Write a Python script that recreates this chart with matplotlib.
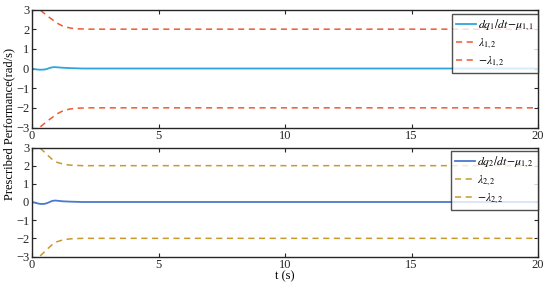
import matplotlib
matplotlib.use("Agg")
import matplotlib.pyplot as plt

plt.rcParams['font.family'] = ['Liberation Serif', 'DejaVu Serif']
plt.rcParams['mathtext.fontset'] = 'stix'

# time samples (s) and prescribed bounds
t_lam1 = [0, 0.15, 0.3, 0.43, 0.6, 0.81, 1.0, 1.24, 1.5, 1.76, 2.2, 3.0, 20.0]
lam1 = [3.3, 3.15, 3.0, 2.86, 2.68, 2.48, 2.3, 2.14, 2.06, 2.02, 2.0, 2.0, 2.0]
t_lam2 = [0, 0.15, 0.3, 0.45, 0.6, 0.85, 1.0, 1.24, 1.5, 2.0, 3.0, 20.0]
lam2 = [3.35, 3.15, 3.0, 2.8, 2.6, 2.28, 2.18, 2.08, 2.03, 2.0, 2.0, 2.0]

t_err = [0, 0.1, 0.2, 0.3, 0.4, 0.5, 0.6, 0.7, 0.8, 0.9, 1.0, 1.2, 1.5, 2.0, 3.0, 20.0]
err1 = [0, -0.03, -0.05, -0.06, -0.06, -0.05, -0.02, 0.03, 0.06, 0.07, 0.06, 0.04, 0.02, 0.0, 0.0, 0.0]
err2 = [0, -0.03, -0.07, -0.1, -0.11, -0.1, -0.06, 0.0, 0.06, 0.08, 0.07, 0.04, 0.02, 0.0, 0.0, 0.0]

xticks = [0, 5, 10, 15, 20]
yticks = [-3, -2, -1, 0, 1, 2, 3]
yticklabels = ['\u22123', '\u22122', '\u22121', '0', '1', '2', '3']

W, H = 550, 287
fig = plt.figure(figsize=(W/100, H/100), dpi=100)

def box(l, t, r, b):
    return [l/W, 1 - b/H, (r-l)/W, (b-t)/H]

ax1 = fig.add_axes(box(32, 9.5, 538, 127.5))
ax2 = fig.add_axes(box(32, 147.5, 538, 256.5))

panels = [
    (ax1, err1, t_lam1, lam1, '#2ca6dc', '#ee5a33',
     [r'$dq_1/dt\!-\!\mu_{1,1}$', r'$\lambda_{1,2}$', r'$-\lambda_{1,2}$'], 4/118),
    (ax2, err2, t_lam2, lam2, '#4a78cc', '#c89a2c',
     [r'$dq_2/dt\!-\!\mu_{1,2}$', r'$\lambda_{2,2}$', r'$-\lambda_{2,2}$'], 3/109),
]

for ax, err, tl, lam, cb, cd, labels, off in panels:
    ax.plot(t_err, err, color=cb, lw=1.3, label=labels[0])
    ax.plot(tl, lam, color=cd, lw=1.1, ls=(0, (4, 3)), label=labels[1])
    ax.plot(tl, [-v for v in lam], color=cd, lw=1.1, ls=(0, (4, 3)), label=labels[2])
    ax.set_xlim(0, 20)
    ax.set_ylim(-3, 3)
    ax.set_xticks(xticks)
    ax.set_yticks(yticks)
    ax.set_yticklabels(yticklabels)
    ax.tick_params(direction='in', top=True, right=True, labelsize=9, length=3,
                   width=0.8, pad=2, colors='#262626')
    for s in ax.spines.values():
        s.set_linewidth(1.0)
        s.set_color('#262626')
    leg = ax.legend(loc='upper right', bbox_to_anchor=(1.0, 1.0 - off),
                    fontsize=8.5, frameon=True, fancybox=False,
                    edgecolor='#262626', borderpad=0.35, labelspacing=0.3,
                    handlelength=1.7, handletextpad=0.15, borderaxespad=0.0)
    leg.get_frame().set_linewidth(1.0)

ax2.set_xlabel('t (s)', fontsize=9, labelpad=-1)
fig.text(9/W, 1 - 124/H, 'Prescribed Performance(rad/s)', rotation=90,
         ha='center', va='center', fontsize=9)

fig.savefig('out.png', dpi=100)
